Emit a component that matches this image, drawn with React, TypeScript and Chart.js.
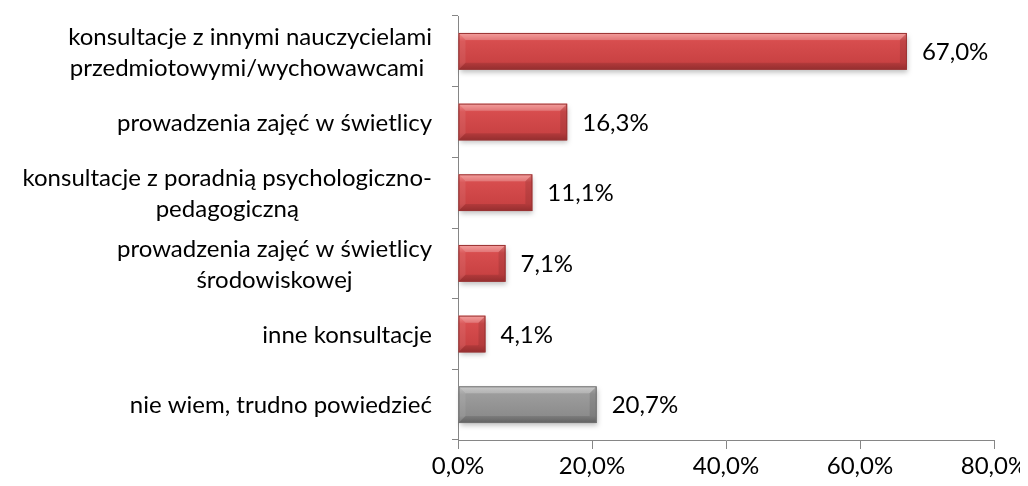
import React, { useEffect, useRef } from "react";
import { Chart, registerables } from "chart.js";

Chart.register(...registerables);

const categories: string[][] = [
  ["konsultacje z innymi nauczycielami", "przedmiotowymi/wychowawcami "],
  ["prowadzenia zajęć w świetlicy"],
  ["konsultacje z poradnią psychologiczno-", "pedagogiczną"],
  ["prowadzenia zajęć w świetlicy", "środowiskowej"],
  ["inne konsultacje"],
  ["nie wiem, trudno powiedzieć"],
];
const values: number[] = [67.0, 16.3, 11.1, 7.1, 4.1, 20.7];
const barKinds: string[] = ["red", "red", "red", "red", "red", "gray"];
const xTicks: number[] = [0, 20, 40, 60, 80];

const FONT = "Lato, 'Open Sans', sans-serif";
const FSIZE = 24;
const fmt = (v: number) => v.toFixed(1).replace(".", ",") + "%";

const palettes: Record<string, { top: string; mid: string; low: string; bot: string; edge: string }> = {
  red: { top: "#f28886", mid: "#d74d4e", low: "#c94243", bot: "#a53334", edge: "#9a3434" },
  gray: { top: "#bcbcbc", mid: "#9c9c9c", low: "#8c8c8c", bot: "#6c6c6c", edge: "#707070" },
};

const bevelPlugin = {
  id: "bevelBars",
  afterDatasetsDraw(chart: any) {
    const ctx = chart.ctx;
    const meta = chart.getDatasetMeta(0);
    meta.data.forEach((bar: any, i: number) => {
      const p = palettes[barKinds[i]];
      const L = bar.base;
      const R = bar.x;
      const T = bar.y - bar.height / 2;
      const B = bar.y + bar.height / 2;
      const b = Math.min(7, (R - L) / 2);
      ctx.save();
      ctx.shadowColor = "rgba(0,0,0,0.25)";
      ctx.shadowBlur = 5;
      ctx.shadowOffsetX = 1;
      ctx.shadowOffsetY = 3;
      const g = ctx.createLinearGradient(0, T, 0, B);
      g.addColorStop(0, p.top);
      g.addColorStop(0.22, p.mid);
      g.addColorStop(0.8, p.low);
      g.addColorStop(1, p.bot);
      ctx.fillStyle = g;
      ctx.fillRect(L, T, R - L, B - T);
      ctx.restore();
      ctx.save();
      ctx.beginPath();
      ctx.moveTo(L, T);
      ctx.lineTo(R, T);
      ctx.lineTo(R - b, T + b);
      ctx.lineTo(L + b, T + b);
      ctx.closePath();
      ctx.fillStyle = "rgba(255,255,255,0.2)";
      ctx.fill();
      ctx.beginPath();
      ctx.moveTo(L, B);
      ctx.lineTo(R, B);
      ctx.lineTo(R - b, B - b);
      ctx.lineTo(L + b, B - b);
      ctx.closePath();
      ctx.fillStyle = "rgba(0,0,0,0.1)";
      ctx.fill();
      ctx.beginPath();
      ctx.moveTo(R, T);
      ctx.lineTo(R, B);
      ctx.lineTo(R - b, B - b);
      ctx.lineTo(R - b, T + b);
      ctx.closePath();
      ctx.fillStyle = "rgba(0,0,0,0.1)";
      ctx.fill();
      ctx.beginPath();
      ctx.moveTo(L, T);
      ctx.lineTo(L, B);
      ctx.lineTo(L + b, B - b);
      ctx.lineTo(L + b, T + b);
      ctx.closePath();
      ctx.fillStyle = "rgba(255,255,255,0.08)";
      ctx.fill();
      ctx.strokeStyle = p.edge;
      ctx.lineWidth = 1;
      ctx.strokeRect(L + 0.5, T + 0.5, R - L - 1, B - T - 1);
      ctx.restore();

      ctx.save();
      ctx.font = `${FSIZE}px ${FONT}`;
      ctx.fillStyle = "#000";
      ctx.textAlign = "left";
      ctx.textBaseline = "middle";
      ctx.fillText(fmt(values[i]), R + 15, bar.y + 1);
      ctx.restore();
    });
  },
  afterDraw(chart: any) {
    const ctx = chart.ctx;
    const yScale = chart.scales.y;
    const rightEdge = chart.chartArea.left - 26;
    const lineH = 31;
    ctx.save();
    ctx.font = `${FSIZE}px ${FONT}`;
    ctx.fillStyle = "#000";
    ctx.textAlign = "center";
    ctx.textBaseline = "middle";
    categories.forEach((lines, i) => {
      const cy = yScale.getPixelForValue(i) + 1;
      const maxW = Math.max(...lines.map((l) => ctx.measureText(l).width));
      const cx = rightEdge - maxW / 2;
      lines.forEach((l, j) => {
        ctx.fillText(l, cx, cy + (j - (lines.length - 1) / 2) * lineH);
      });
    });
    ctx.restore();
  },
};

export default function App() {
  const ref = useRef<HTMLCanvasElement>(null);
  useEffect(() => {
    if (!ref.current) return;
    const chart = new Chart(ref.current, {
      type: "bar",
      data: {
        labels: categories.map((c) => c.join(" ")),
        datasets: [
          {
            data: values,
            backgroundColor: "rgba(0,0,0,0)",
            borderWidth: 0,
            barPercentage: 0.52,
            categoryPercentage: 1,
          },
        ],
      },
      options: {
        indexAxis: "y",
        animation: false,
        responsive: true,
        maintainAspectRatio: false,
        layout: { padding: { left: 0, right: 34, top: 8, bottom: 0 } },
        plugins: { legend: { display: false }, tooltip: { enabled: false } },
        scales: {
          x: {
            min: 0,
            max: 80,
            afterBuildTicks: (s: any) => {
              s.ticks = xTicks.map((v) => ({ value: v }));
            },
            ticks: {
              callback: (v: any) => fmt(Number(v)),
              font: { family: FONT, size: FSIZE },
              color: "#000",
              padding: 3,
              maxRotation: 0,
            },
            grid: {
              drawOnChartArea: false,
              drawTicks: true,
              tickLength: 9,
              color: "#868686",
            },
            border: { display: true, color: "#868686", width: 1 },
            afterFit: (s: any) => {
              s.height = 46;
              s.paddingLeft = 0;
              s.paddingRight = 0;
            },
          },
          y: {
            ticks: { display: false },
            grid: {
              drawOnChartArea: false,
              drawTicks: true,
              tickLength: 6,
              color: "#868686",
              offset: true,
            },
            border: { display: true, color: "#868686", width: 1 },
            afterFit: (s: any) => {
              s.width = 450;
              s.paddingTop = 0;
              s.paddingBottom = 0;
            },
          },
        },
      },
      plugins: [bevelPlugin],
    });
    return () => chart.destroy();
  }, []);
  return (
    <div style={{ width: 1020, height: 478, position: "relative" }}>
      <canvas ref={ref} />
    </div>
  );
}
